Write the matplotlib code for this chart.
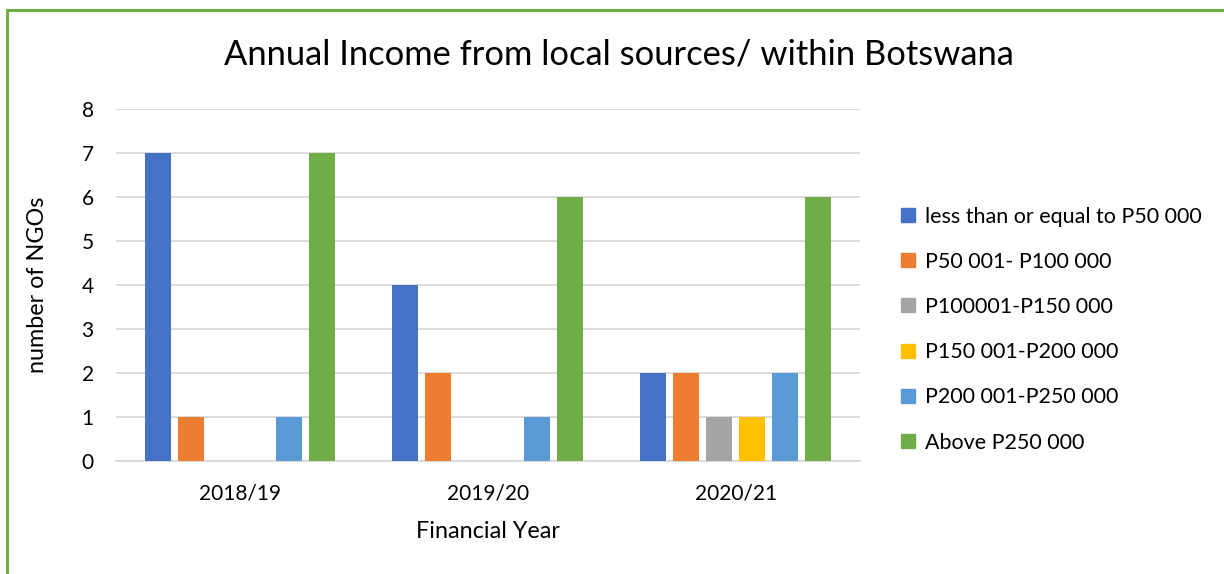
import numpy as np
import matplotlib
matplotlib.use("Agg")
import matplotlib.pyplot as plt
from matplotlib.patches import Rectangle
from matplotlib.lines import Line2D

# === Data ===
years = ["2018/19", "2019/20", "2020/21"]
series_names = [
    "less than or equal to P50 000",
    "P50 001- P100 000",
    "P100001-P150 000",
    "P150 001-P200 000",
    "P200 001-P250 000",
    "Above P250 000",
]
le_50k = [7, 4, 2]
p50_100k = [1, 2, 2]
p100_150k = [0, 0, 1]
p150_200k = [0, 0, 1]
p200_250k = [1, 1, 2]
above_250k = [7, 6, 6]
series_values = [le_50k, p50_100k, p100_150k, p150_200k, p200_250k, above_250k]
colors = ["#4472C4", "#ED7D31", "#A5A5A5", "#FFC000", "#5B9BD5", "#70AD47"]

plt.rcParams["font.family"] = ["Lato", "DejaVu Sans"]

# === Plot ===
fig = plt.figure(figsize=(12.24, 5.74), dpi=100)
W, H = 1224, 574
ax = fig.add_axes([116 / W, 1 - 461 / H, (860 - 116) / W, (461 - 109) / H])

x = np.arange(len(years))
step = 33 / 248
width = 26 / 248
for i, (vals, col) in enumerate(zip(series_values, colors)):
    ax.bar(x + (i - 2.5) * step, vals, width=width, color=col, zorder=3)

ax.set_xlim(-0.5, 2.5)
ax.set_ylim(0, 8)
ax.set_yticks(range(0, 9))
ax.set_xticks(x)
ax.set_xticklabels(years)
ax.yaxis.grid(True, color="#D9D9D9", linewidth=1.3, zorder=0)
for s in ["top", "right", "left"]:
    ax.spines[s].set_visible(False)
ax.spines["bottom"].set_color("#D9D9D9")
ax.spines["bottom"].set_linewidth(1.3)
ax.tick_params(axis="both", length=0, labelsize=15, colors="black")
ax.tick_params(axis="y", pad=16)
ax.tick_params(axis="x", pad=16)

ax.set_ylabel("number of NGOs", fontsize=16.8, labelpad=24)
ax.set_xlabel("Financial Year", fontsize=16.8, labelpad=13)

fig.text(619 / W, 1 - 55 / H, "Annual Income from local sources/ within Botswana",
         ha="center", va="center", fontsize=24.8)

handles = [Line2D([], [], marker="s", linestyle="none", markersize=9.5,
                  markerfacecolor=c, markeredgecolor=c) for c in colors]
fig.legend(handles, series_names, loc="upper left",
           bbox_to_anchor=(892 / W, 1 - 198 / H), frameon=False,
           fontsize=15.5, handlelength=0.7, handletextpad=0.45,
           labelspacing=1.17, borderaxespad=0)

# green frame (top and left edges visible)
fig.patches.append(Rectangle((7 / W, -0.1), 1.2, 1 - 10 / H + 0.1,
                             transform=fig.transFigure, fill=False,
                             edgecolor="#70AD47", linewidth=2.2))

plt.savefig("out.png", dpi=100, facecolor="white")
